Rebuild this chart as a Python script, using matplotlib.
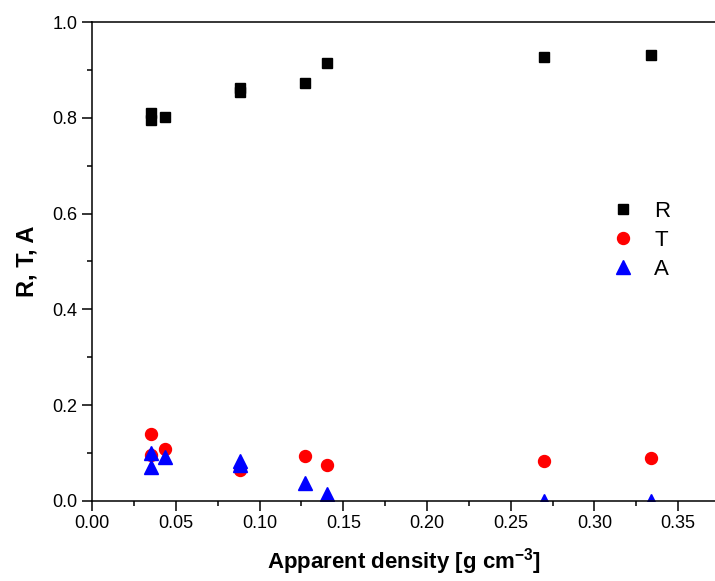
import numpy as np
import matplotlib
matplotlib.use('Agg')
import matplotlib.pyplot as plt
from matplotlib.ticker import MultipleLocator, FormatStrFormatter

plt.rcParams['font.family'] = ['Liberation Sans', 'DejaVu Sans']

# apparent density [g cm^-3]
R_x = [0.0353, 0.0353, 0.0437, 0.088, 0.088, 0.127, 0.140, 0.270, 0.334]
R_y = [0.810, 0.795, 0.802, 0.862, 0.853, 0.873, 0.914, 0.927, 0.931]

T_x = [0.0353, 0.0353, 0.0437, 0.088, 0.127, 0.140, 0.270, 0.334]
T_y = [0.140, 0.095, 0.109, 0.065, 0.094, 0.074, 0.084, 0.089]

A_x = [0.0353, 0.0353, 0.0437, 0.088, 0.088, 0.127, 0.140, 0.270, 0.334]
A_y = [0.100, 0.071, 0.092, 0.083, 0.075, 0.037, 0.015, 0.0, 0.0]

fig = plt.figure(figsize=(7.15, 5.81), dpi=100)
ax = fig.add_axes([0.129, 0.138, 0.871, 0.824])

ax.plot(R_x, R_y, 's', color='black', markersize=7.2, linestyle='none', label='R')
ax.plot(T_x, T_y, 'o', color='red', markersize=8.6, linestyle='none', label='T')
ax.plot(A_x, A_y, '^', color='blue', markersize=10, linestyle='none', label='A')

ax.set_xlim(0, 0.372)
ax.set_ylim(0, 1.0)
ax.xaxis.set_major_locator(MultipleLocator(0.05))
ax.xaxis.set_minor_locator(MultipleLocator(0.025))
ax.yaxis.set_major_locator(MultipleLocator(0.2))
ax.yaxis.set_minor_locator(MultipleLocator(0.1))
ax.xaxis.set_major_formatter(FormatStrFormatter('%.2f'))
ax.yaxis.set_major_formatter(FormatStrFormatter('%.1f'))

ax.tick_params(which='major', direction='out', length=7, width=1.1, labelsize=13)
ax.tick_params(which='minor', direction='out', length=3.6, width=1.1)
for s in ['left', 'bottom', 'top']:
    ax.spines[s].set_linewidth(1.1)
ax.spines['right'].set_visible(False)

ax.set_xlabel('Apparent density [g cm$^{\\mathregular{-3}}$]', fontsize=16, fontweight='bold', labelpad=10)
ax.set_ylabel('R, T, A', fontsize=17, fontweight='bold', labelpad=10)

ax.legend(loc='upper left', bbox_to_anchor=(0.785, 0.668), frameon=False, fontsize=16,
          handletextpad=0.4, labelspacing=0.35, markerscale=1.0)

fig.savefig('out.png', dpi=100)
